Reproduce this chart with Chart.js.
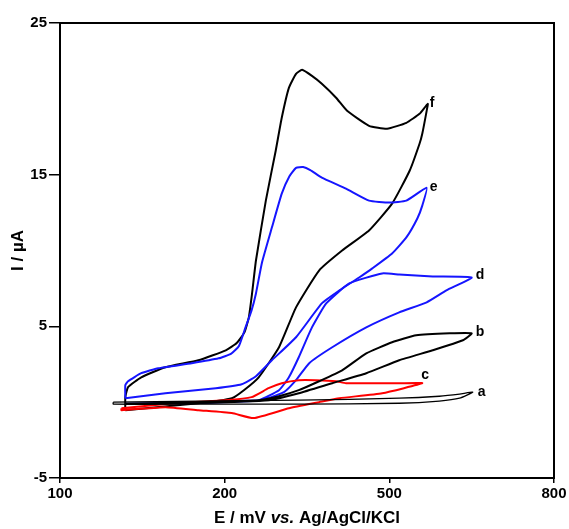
<!DOCTYPE html>
<html>
<head>
<meta charset="utf-8">
<script src="https://cdn.jsdelivr.net/npm/chart.js@4.4.0/dist/chart.umd.min.js"></script>
<style>
  html, body { margin: 0; padding: 0; background: #fff; }
</style>
</head>
<body>
<canvas id="cv" width="569" height="529"></canvas>
<script>
/* Cyclic voltammograms a-f, E (mV) vs I (uA) */

const xTicks = [-100, 200, 500, 800];
const xTickLabels = ['100', '200', '500', '800'];
const yTicks = [-5, 5, 15, 25];
const curveNames = ['a', 'b', 'c', 'd', 'e', 'f'];

// each curve is a closed loop of [E, I] pairs
const curveA = [[-3,0.0],[152,0.07],[335,0.13],[518,0.26],[591,0.39],[628,0.53],[652,0.66],
  [628,0.26],[591,0.07],[518,-0.07],[335,-0.13],[152,-0.13],[-3,-0.13],[-3,0.0]];

const curveB = [[20,-0.1],[150,0.0],[262,0.13],[299,0.39],[335,0.79],[372,1.38],[414,2.1],[458,3.22],
  [505,3.95],[549,4.41],[610,4.54],[650,4.54],
  [634,4.08],[579,3.42],[518,2.76],[458,1.91],[396,1.25],[335,0.59],[280,0.13],[150,-0.05],[20,-0.1]];

const curveC = [[12,-0.4],[107,-0.07],[202,0.13],[249,0.33],[280,0.92],[304,1.25],[335,1.45],[366,1.45],
  [403,1.38],[421,1.25],[518,1.25],[560,1.25],
  [487,0.59],[409,0.26],[372,0.0],[317,-0.4],[253,-1.05],[213,-0.72],[152,-0.53],[92,-0.33],[12,-0.53],[12,-0.4]];

const curveD = [[20,-0.1],[150,0.0],[240,0.1],[262,0.13],[299,0.79],[317,1.64],[335,2.96],[359,4.93],
  [385,6.51],[427,7.83],[487,8.49],[518,8.42],[579,8.29],[650,8.22],
  [604,7.37],[568,6.58],[518,5.92],[458,4.93],[396,3.62],[354,2.57],[330,1.45],[308,0.66],[266,0.13],
  [150,-0.05],[20,-0.1]];

const curveE = [[19,0.26],[19,1.12],[24,1.38],[48,1.91],[79,2.24],[140,2.57],[189,2.89],[212,3.2],[226,3.7],
  [238,4.93],[249,6.05],[257,7.17],[268,9.21],[286,11.51],[304,13.75],[318,14.9],[330,15.45],[343,15.5],
  [356,15.3],[377,14.8],[421,14.08],[463,13.29],[500,13.16],[531,13.29],[568,14.14],
  [560,12.96],[551,12.11],[531,10.86],[505,9.8],[469,8.82],[445,8.22],[409,7.37],[377,6.51],[330,4.28],
  [286,2.76],[257,1.71],[231,1.18],[184,0.92],[92,0.59],[19,0.26]];

const curveF = [[19,-0.53],[19,0.33],[24,0.99],[48,1.64],[92,2.30],[152,2.76],[202,3.42],[222,3.9],[236,4.6],
  [244,5.59],[250,7.2],[257,9.34],[275,13.29],[293,16.58],[304,18.75],[317,20.72],[330,21.64],[341,21.91],
  [359,21.51],[377,20.99],[403,20.07],[423,19.21],[463,18.22],[496,18.03],[531,18.42],[555,19.01],[570,19.67],
  [568,19.21],[560,17.7],[555,17.04],[537,15.26],[505,13.09],[463,11.32],[414,10.0],[372,8.68],[330,6.25],
  [299,3.62],[262,1.64],[235,0.79],[213,0.26],[152,-0.07],[19,-0.53]];

const curves = [curveA, curveB, curveC, curveD, curveE, curveF];
const curveColors = ['#000000', '#000000', '#ff0000', '#1515ff', '#1515ff', '#000000'];

const FONT = 'Liberation Sans, Arial, sans-serif';

const labelOffsets = { a: [5, 0], b: [4, -1], c: [-1, -8], d: [4, -2], e: [3, -1], f: [2, -1] };

const textPlugin = {
  id: 'textPlugin',
  afterDraw(chart) {
    const { ctx, chartArea } = chart;
    const ca = chartArea;
    ctx.save();
    // frame
    ctx.strokeStyle = '#000';
    ctx.lineWidth = 2;
    ctx.strokeRect(ca.left, ca.top, ca.right - ca.left, ca.bottom - ca.top);

    // curve labels at the loop tips
    ctx.fillStyle = '#000';
    ctx.font = 'bold 14px ' + FONT;
    ctx.textAlign = 'left';
    ctx.textBaseline = 'middle';
    chart.data.datasets.forEach((ds, i) => {
      const name = curveNames[i];
      let tip = ds.data[0];
      ds.data.forEach(p => { if (p.x > tip.x) tip = p; });
      const px = chart.scales.x.getPixelForValue(tip.x);
      const py = chart.scales.y.getPixelForValue(tip.y);
      const off = labelOffsets[name];
      ctx.fillText(name, px + off[0], py + off[1]);
    });

    // x title with italic "vs."
    const parts = [
      ['E / mV ', 'bold 17px ' + FONT],
      ['vs.', 'italic bold 17px ' + FONT],
      [' Ag/AgCl/KCl', 'bold 17px ' + FONT]
    ];
    let total = 0;
    parts.forEach(p => { ctx.font = p[1]; total += ctx.measureText(p[0]).width; });
    let x = (ca.left + ca.right) / 2 - total / 2;
    ctx.textBaseline = 'middle';
    parts.forEach(p => {
      ctx.font = p[1];
      ctx.fillText(p[0], x, 518);
      x += ctx.measureText(p[0]).width;
    });

    // y title
    ctx.translate(18, (ca.top + ca.bottom) / 2);
    ctx.rotate(-Math.PI / 2);
    ctx.font = 'bold 17px ' + FONT;
    ctx.textAlign = 'center';
    ctx.fillText('I / µA', 0, 0);
    ctx.restore();
  }
};

const chart = new Chart(document.getElementById('cv'), {
  type: 'scatter',
  data: {
    datasets: curves.map((c, i) => ({
      label: curveNames[i],
      data: c.map(p => ({ x: p[0], y: p[1] })),
      showLine: true,
      borderColor: curveColors[i],
      borderWidth: i === 0 ? 1.3 : 2,
      pointRadius: 0,
      tension: 0.15,
      fill: false
    }))
  },
  options: {
    responsive: false,
    animation: false,
    layout: { padding: { left: 0, right: 15, top: 23, bottom: 0 } },
    plugins: {
      legend: { display: false },
      tooltip: { enabled: false }
    },
    scales: {
      x: {
        type: 'linear',
        min: -100,
        max: 800,
        afterBuildTicks: s => { s.ticks = xTicks.map(v => ({ value: v })); },
        afterFit: s => { s.height = 51; },
        ticks: {
          callback: (v, i) => xTickLabels[i],
          color: '#000',
          font: { family: FONT, size: 15, weight: 'bold' },
          padding: 2,
          maxRotation: 0,
          autoSkip: false
        },
        grid: { drawOnChartArea: false, drawTicks: true, tickLength: 5, color: '#000', lineWidth: 1.5 },
        border: { color: '#000', width: 2 }
      },
      y: {
        type: 'linear',
        min: -5,
        max: 25,
        afterBuildTicks: s => { s.ticks = yTicks.map(v => ({ value: v })); },
        afterFit: s => { s.width = 60; },
        ticks: {
          color: '#000',
          font: { family: FONT, size: 15, weight: 'bold' },
          padding: 2
        },
        grid: { drawOnChartArea: false, drawTicks: true, tickLength: 11, color: '#000', lineWidth: 1.5 },
        border: { color: '#000', width: 2 }
      }
    }
  },
  plugins: [textPlugin]
});
</script>
</body>
</html>
